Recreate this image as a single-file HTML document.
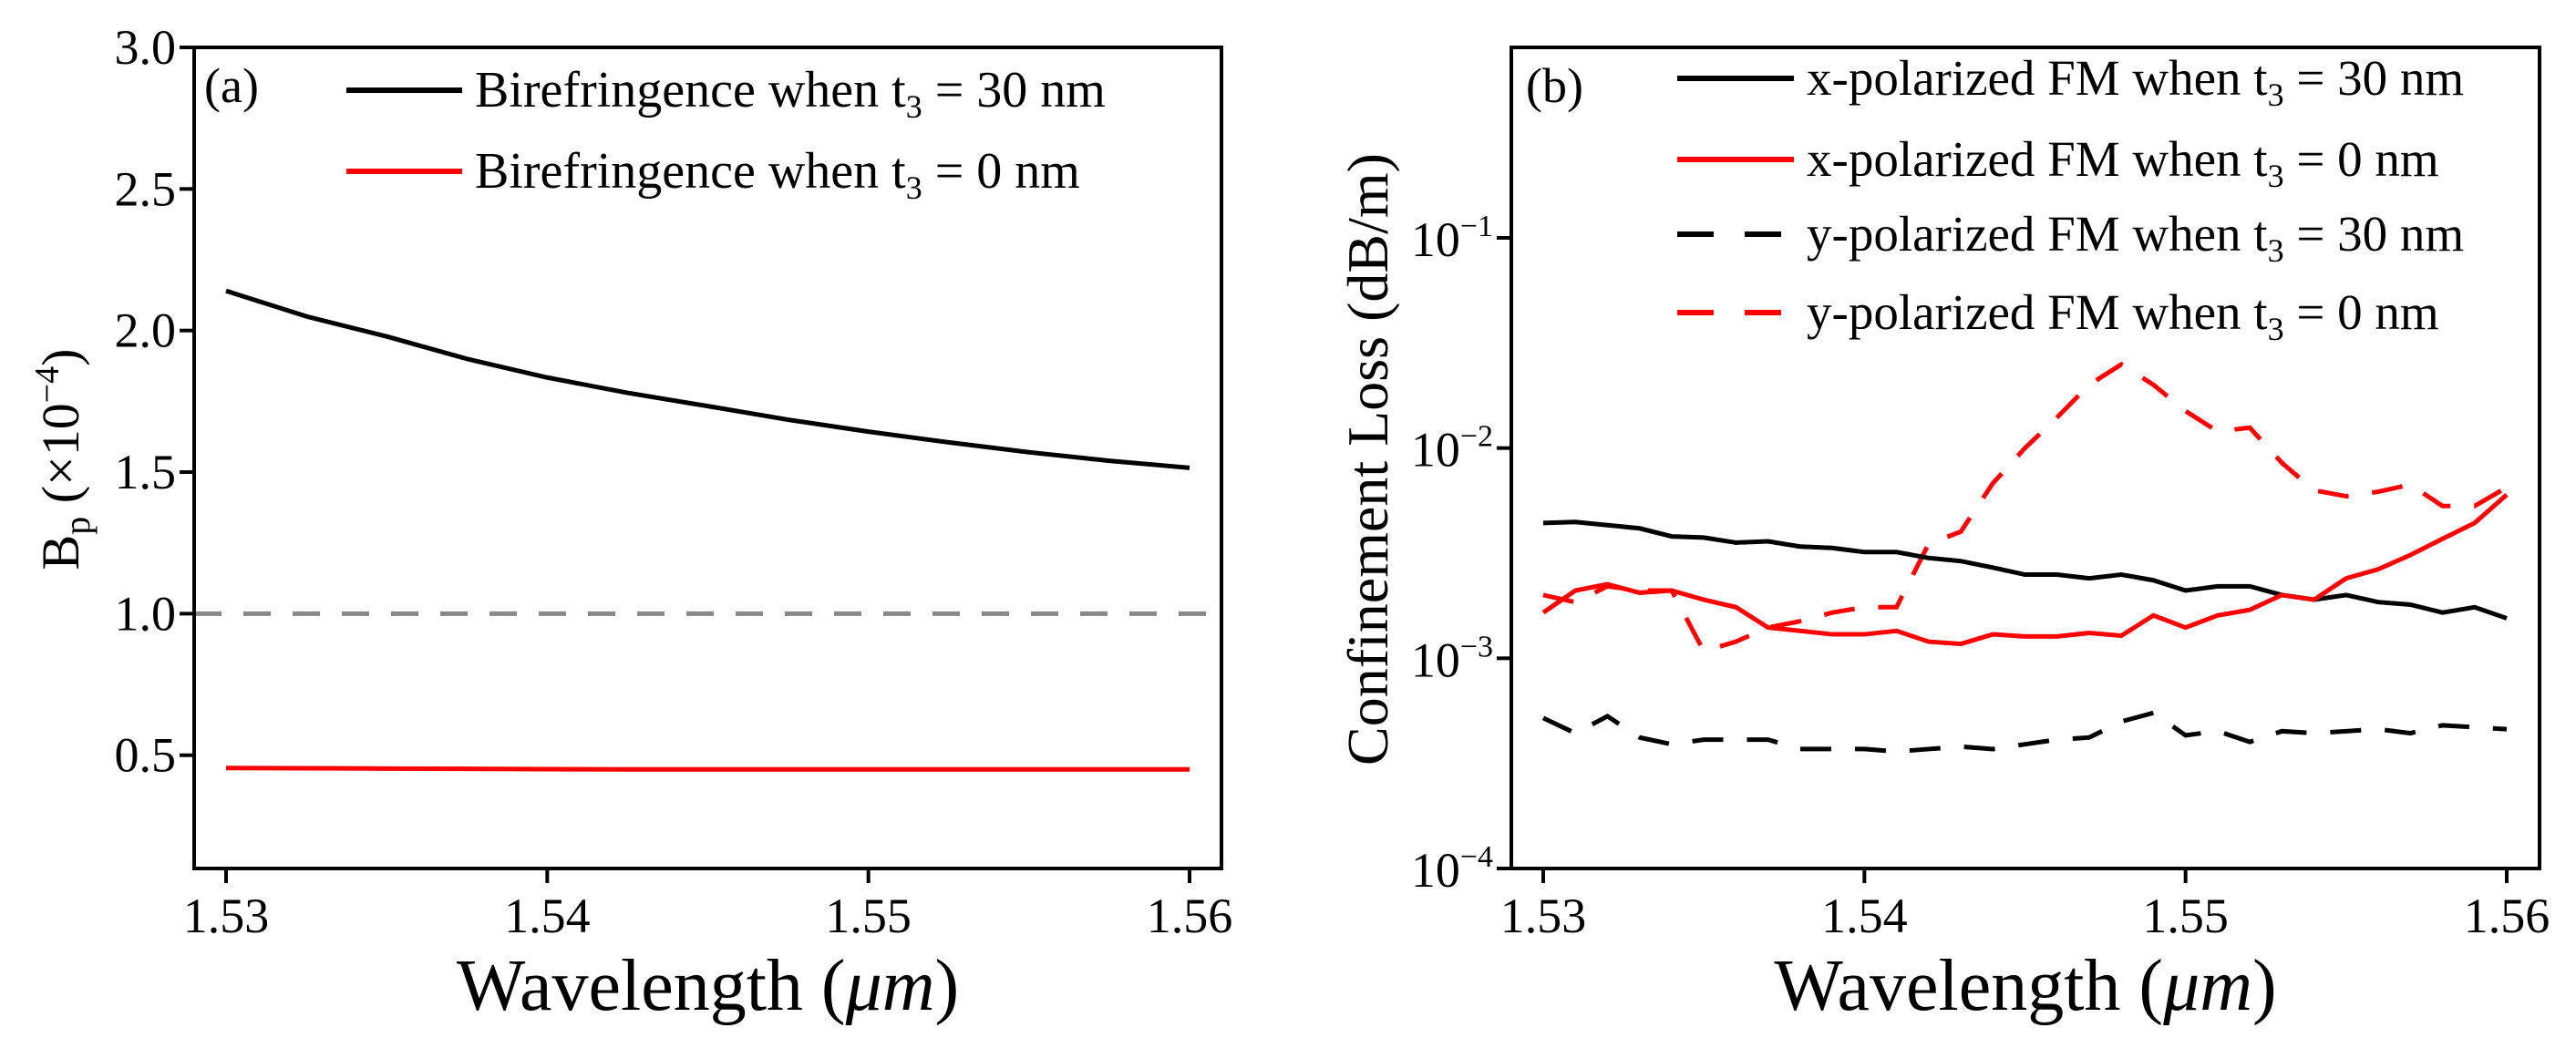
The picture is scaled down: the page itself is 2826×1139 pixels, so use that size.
<!DOCTYPE html>
<html><head><meta charset="utf-8"><style>
html,body{margin:0;padding:0;background:#fff;}
svg{display:block;font-family:"Liberation Serif",serif;}
</style></head><body>
<svg id="chart" width="2826" height="1139" viewBox="0 0 2826 1139"></svg>
<script>
const wl = [];
for (let i = 0; i <= 30; i++) wl.push(+(1.53 + i * 0.001).toFixed(3));
const wlA = [1.53, 1.5325, 1.535, 1.5375, 1.54, 1.5425, 1.545, 1.5475, 1.55, 1.5525, 1.555, 1.5575, 1.56];
const biref30 = [2.14, 2.05, 1.979, 1.90, 1.834, 1.78, 1.733, 1.685, 1.643, 1.605, 1.57, 1.54, 1.515];
const biref0 = [0.455, 0.454, 0.453, 0.452, 0.451, 0.45, 0.45, 0.45, 0.45, 0.45, 0.45, 0.45, 0.45];
const thresholdA = 1.0;
const xTicks = [1.53, 1.54, 1.55, 1.56];
const xTickLabels = ["1.53", "1.54", "1.55", "1.56"];
const yTicksA = [0.5, 1.0, 1.5, 2.0, 2.5, 3.0];
const yTickLabelsA = ["0.5", "1.0", "1.5", "2.0", "2.5", "3.0"];
const yTicksB = [-4, -3, -2, -1];
const xSolid30 = [4.4,4.45,4.3,4.15,3.8,3.75,3.55,3.6,3.4,3.35,3.2,3.2,3.0,2.9,2.7,2.5,2.5,2.4,2.5,2.35,2.1,2.2,2.2,2.0,1.9,2.0,1.85,1.8,1.65,1.75,1.55];
const xSolid0 = [1.65,2.1,2.25,2.05,2.1,1.9,1.75,1.4,1.35,1.3,1.3,1.35,1.2,1.17,1.3,1.27,1.27,1.32,1.28,1.6,1.4,1.6,1.7,2.0,1.9,2.4,2.65,3.1,3.7,4.4,6.0];
const yDash30 = [0.52,0.44,0.53,0.42,0.39,0.41,0.41,0.41,0.37,0.37,0.37,0.36,0.37,0.38,0.37,0.39,0.41,0.42,0.5,0.55,0.43,0.45,0.40,0.45,0.44,0.45,0.46,0.44,0.48,0.47,0.46];
const yDash0 = [2.0,1.85,2.2,2.1,2.1,1.08,1.2,1.4,1.5,1.65,1.75,1.75,3.5,4.0,6.8,10,14,20,25,20,15,12,12.5,8.5,6.3,5.9,6.2,6.7,5.3,5.3,6.5];

const NS = "http://www.w3.org/2000/svg";
const svg = document.getElementById("chart");
function mk(tag, attrs, parent, text) {
  const e = document.createElementNS(NS, tag);
  for (const k in attrs) e.setAttribute(k, attrs[k]);
  if (text !== undefined) e.textContent = text;
  (parent || svg).appendChild(e);
  return e;
}
function xScale(x0px, v) { return x0px + (v - 1.53) / 0.03 * 1057; }

// ---------- Panel (a) ----------
const A = {l: 213, r: 1340, t: 52, b: 953, x0: 248};
const yA = v => A.b - (v - 0.1) / 2.9 * (A.b - A.t);
const xA = v => xScale(A.x0, v);
const gA = mk("g", {});


let e = mk("line", {x1: A.l, x2: A.r, y1: yA(thresholdA), y2: yA(thresholdA), stroke: "#888", "stroke-width": 5, "stroke-dasharray": "30 24"}, gA);


e = mk("polyline", {points: wlA.map((w, i) => xA(w) + "," + yA(biref30[i])).join(" "), fill: "none", stroke: "#000", "stroke-width": 5, "stroke-linejoin": "round"}, gA);


e = mk("polyline", {points: wlA.map((w, i) => xA(w) + "," + yA(biref0[i])).join(" "), fill: "none", stroke: "#f00", "stroke-width": 5}, gA);


e = mk("rect", {x: A.l, y: A.t, width: A.r - A.l, height: A.b - A.t, fill: "none", stroke: "#000", "stroke-width": 4}, gA);


xTicks.forEach((t, i) => {
  mk("line", {x1: xA(t), x2: xA(t), y1: A.b, y2: A.b + 16, stroke: "#000", "stroke-width": 4}, gA);
  const tx = mk("text", {x: xA(t), y: 1023, "text-anchor": "middle", "font-size": 54}, gA, xTickLabels[i]);
  
  
});
yTicksA.forEach((t, i) => {
  mk("line", {x1: A.l - 16, x2: A.l, y1: yA(t), y2: yA(t), stroke: "#000", "stroke-width": 4}, gA);
  const tx = mk("text", {x: A.l - 20, y: yA(t) + 18, "text-anchor": "end", "font-size": 54}, gA, yTickLabelsA[i]);
  
  
});
e = mk("text", {x: 224, y: 112, "font-size": 54}, gA, "(a)");


e = mk("text", {x: (A.l + A.r) / 2, y: 1108, "text-anchor": "middle", "font-size": 80}, gA);
e.innerHTML = 'Wavelength (<tspan font-style="italic">μm</tspan>)';


e = mk("text", {transform: "translate(86,504) rotate(-90)", "text-anchor": "middle", "font-size": 58}, gA);
e.innerHTML = 'B<tspan font-size="40" dy="12">p</tspan><tspan dy="-12">  (×10</tspan><tspan font-size="38" dy="-22">−4</tspan><tspan dy="22">)</tspan>';


[[99, "#000", "30"], [188, "#f00", "0"]].forEach(([y, c, n]) => {
  const l = mk("line", {x1: 380, x2: 507, y1: y, y2: y, stroke: c, "stroke-width": 6}, gA);
  
  
  const t = mk("text", {x: 521, y: y + 18, "font-size": 56}, gA);
  t.innerHTML = 'Birefringence when t<tspan font-size="36" dy="12">3</tspan><tspan dy="-12"> = ' + n + ' nm</tspan>';
  
  
});

// ---------- Panel (b) ----------
const B = {l: 1658, r: 2786, t: 52, b: 953, x0: 1693};
const dec = (B.b - 261) / 3;
const yB = v => B.b - (Math.log10(v) + 4) * dec;
const xB = v => xScale(B.x0, v);
const gB = mk("g", {});


function series(arr, color, dash, name) {
  const p = mk("polyline", {points: wl.map((w, i) => xB(w) + "," + yB(arr[i] * 1e-3)).join(" "), fill: "none", stroke: color, "stroke-width": 5, "stroke-dasharray": dash}, gB);
  
  
}
series(yDash30, "#000", "34 26", "y-pol-30nm-line");
series(yDash0, "#f00", "34 26", "y-pol-0nm-line");
series(xSolid30, "#000", "none", "x-pol-30nm-line");
series(xSolid0, "#f00", "none", "x-pol-0nm-line");
e = mk("rect", {x: B.l, y: B.t, width: B.r - B.l, height: B.b - B.t, fill: "none", stroke: "#000", "stroke-width": 4}, gB);


xTicks.forEach((t, i) => {
  mk("line", {x1: xB(t), x2: xB(t), y1: B.b, y2: B.b + 16, stroke: "#000", "stroke-width": 4}, gB);
  const tx = mk("text", {x: xB(t), y: 1023, "text-anchor": "middle", "font-size": 54}, gB, xTickLabels[i]);
  
  
});
yTicksB.forEach(t => {
  const y = B.b - (t + 4) * dec;
  mk("line", {x1: B.l - 16, x2: B.l, y1: y, y2: y, stroke: "#000", "stroke-width": 4}, gB);
  const tx = mk("text", {x: B.l - 20, y: y + 20, "text-anchor": "end", "font-size": 54}, gB);
  tx.innerHTML = '10<tspan font-size="34" dy="-22">' + (t < 0 ? '−' + (-t) : t) + '</tspan>';
  
  
});
e = mk("text", {x: 1674, y: 112, "font-size": 54}, gB, "(b)");


e = mk("text", {x: (B.l + B.r) / 2, y: 1108, "text-anchor": "middle", "font-size": 80}, gB);
e.innerHTML = 'Wavelength (<tspan font-style="italic">μm</tspan>)';


e = mk("text", {transform: "translate(1522,504) rotate(-90)", "text-anchor": "middle", "font-size": 64}, gB, "Confinement  Loss (dB/m)");


[[86, "#000", "none", "x", "30"], [175, "#f00", "none", "x", "0"], [257, "#000", "40 34", "y", "30"], [343, "#f00", "40 34", "y", "0"]].forEach(([y, c, d, p, n]) => {
  const l = mk("line", {x1: 1840, x2: 1968, y1: y, y2: y, stroke: c, "stroke-width": 6, "stroke-dasharray": d}, gB);
  
  
  const t = mk("text", {x: 1982, y: y + 18, "font-size": 55}, gB);
  t.innerHTML = p + '-polarized FM when t<tspan font-size="36" dy="12">3</tspan><tspan dy="-12"> = ' + n + ' nm</tspan>';
  
  
});
</script>
</body></html>
